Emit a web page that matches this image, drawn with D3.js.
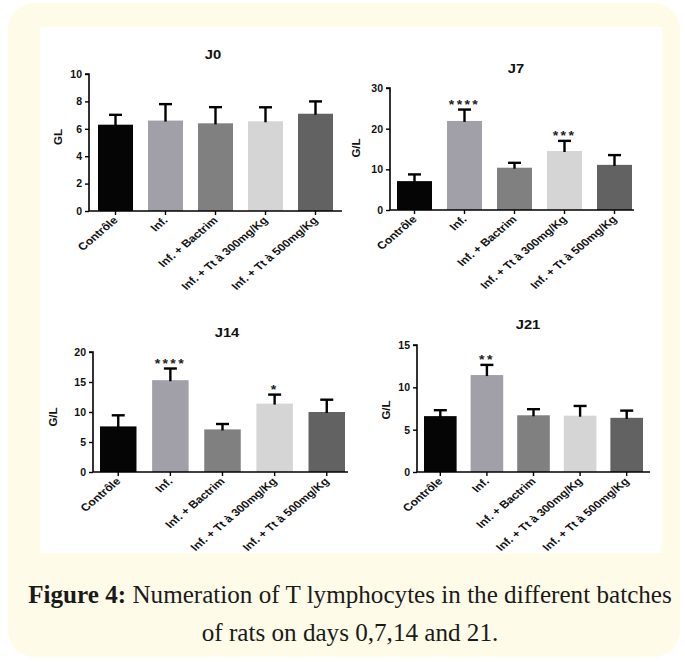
<!DOCTYPE html>
<html>
<head>
<meta charset="utf-8">
<script src="https://cdn.jsdelivr.net/npm/d3@7"></script>
<style>
  html, body { margin: 0; padding: 0; background: #fff; }
  svg { display: block; }
  .tick-label { font-family: "Liberation Sans", Arial, sans-serif; font-weight: bold; fill: #111; }
</style>
</head>
<body>
<script>
// Data
const categories = ["Contrôle", "Inf.", "Inf. + Bactrim", "Inf. + Tt à 300mg/Kg", "Inf. + Tt à 500mg/Kg"];
const days = ["J0", "J7", "J14", "J21"];

const meansJ0 = [6.3, 6.6, 6.4, 6.55, 7.1];
const errJ0 = [0.72, 1.2, 1.18, 1.02, 0.9];
const starsJ0 = ["", "", "", "", ""];
const ticksJ0 = [0, 2, 4, 6, 8, 10];

const meansJ7 = [7.1, 21.9, 10.4, 14.5, 11.1];
const errJ7 = [1.65, 2.8, 1.2, 2.5, 2.4];
const starsJ7 = ["", "****", "", "***", ""];
const ticksJ7 = [0, 10, 20, 30];

const meansJ14 = [7.6, 15.3, 7.1, 11.4, 10.0];
const errJ14 = [1.85, 1.95, 0.9, 1.5, 2.05];
const starsJ14 = ["", "****", "", "*", ""];
const ticksJ14 = [0, 5, 10, 15, 20];

const meansJ21 = [6.6, 11.45, 6.7, 6.65, 6.4];
const errJ21 = [0.7, 1.2, 0.72, 1.15, 0.85];
const starsJ21 = ["", "**", "", "", ""];
const ticksJ21 = [0, 5, 10, 15];

const yLabels = ["GL", "G/L", "G/L", "G/L"];
const barColors = ["#050505", "#a19fa7", "#808080", "#d5d5d5", "#626262"];

const captionBold = "Figure 4:";
const captionRest = " Numeration of T lymphocytes in the different batches";
const captionLine2 = "of rats on days 0,7,14 and 21.";

// Layout of each panel (pixels)
const panels = [
  {means: meansJ0, errs: errJ0, stars: starsJ0, ticks: ticksJ0,
   axis: [89, 342], bars: [98, 333], y0: 211, yTop: 74, tx: 213, ty: 59, lx: 58, ly: 137},
  {means: meansJ7, errs: errJ7, stars: starsJ7, ticks: ticksJ7,
   axis: [390, 634], bars: [397, 632], y0: 210, yTop: 88, tx: 516, ty: 73, lx: 356, ly: 148},
  {means: meansJ14, errs: errJ14, stars: starsJ14, ticks: ticksJ14,
   axis: [93, 348], bars: [100, 345], y0: 472, yTop: 352, tx: 227, ty: 337, lx: 53, ly: 417},
  {means: meansJ21, errs: errJ21, stars: starsJ21, ticks: ticksJ21,
   axis: [417, 650], bars: [424, 643], y0: 472, yTop: 345, tx: 528, ty: 329, lx: 386, ly: 410}
];

// the figure looks stretched sideways, so text gets the same stretch
const stretch = 1.18;

const width = 685, height = 662;
const svg = d3.select("body").append("svg").attr("width", width).attr("height", height);

// Frame
svg.append("rect").attr("x", 8).attr("y", 3).attr("width", 672).attr("height", 654)
   .attr("rx", 26).attr("fill", "#fefbe8");
svg.append("rect").attr("x", 40).attr("y", 27).attr("width", 622).attr("height", 526)
   .attr("fill", "#fff");

panels.forEach((p, k) => {
  const g = svg.append("g");
  const x = d3.scaleBand().domain(categories).range(p.bars).paddingInner(0.3).paddingOuter(0);
  const y = d3.scaleLinear().domain([0, d3.max(p.ticks)]).range([p.y0, p.yTop]);

  // bars
  g.selectAll("rect.bar").data(categories).join("rect")
    .attr("class", "bar")
    .attr("x", c => x(c))
    .attr("width", x.bandwidth())
    .attr("y", (c, i) => y(p.means[i]))
    .attr("height", (c, i) => p.y0 - y(p.means[i]))
    .attr("fill", (c, i) => barColors[i]);

  // error bars (upper only)
  const cap = 13;
  categories.forEach((c, i) => {
    const cx = x(c) + x.bandwidth() / 2;
    const top = y(p.means[i] + p.errs[i]);
    g.append("line").attr("x1", cx).attr("x2", cx).attr("y1", y(p.means[i]) + 1).attr("y2", top)
      .attr("stroke", "#000").attr("stroke-width", 2.4);
    g.append("line").attr("x1", cx - cap / 2).attr("x2", cx + cap / 2).attr("y1", top).attr("y2", top)
      .attr("stroke", "#000").attr("stroke-width", 2.4);
    if (p.stars[i]) {
      g.append("text")
        .attr("transform", `translate(${cx},${top - 1}) scale(${stretch},1)`)
        .attr("text-anchor", "middle")
        .attr("font-family", "Liberation Sans, Arial, sans-serif").attr("font-weight", "bold")
        .attr("font-size", 12).attr("letter-spacing", 2).attr("fill", "#222")
        .text(p.stars[i]);
    }
  });

  // y axis
  const yAxis = g.append("g").attr("transform", `translate(${p.axis[0]},0)`)
    .call(d3.axisLeft(y).tickValues(p.ticks).tickSize(4).tickPadding(3).tickFormat(d3.format("d")));
  yAxis.select(".domain").attr("stroke-width", 1.6).attr("d", `M-4,${p.yTop}H0V${p.y0}`);
  yAxis.selectAll(".tick line").attr("stroke-width", 1.4);
  yAxis.selectAll(".tick text").attr("class", "tick-label").attr("font-size", 10.5);

  // x axis
  const xAxis = g.append("g").attr("transform", `translate(0,${p.y0})`)
    .call(d3.axisBottom(x).tickSize(4).tickFormat(""));
  xAxis.select(".domain").attr("stroke-width", 1.6).attr("d", `M${p.axis[0]},0H${p.axis[1]}`);
  xAxis.selectAll(".tick line").attr("stroke-width", 1.4);

  g.selectAll("text.xlab").data(categories).join("text")
    .attr("class", "xlab tick-label")
    .attr("font-size", 10.4)
    .attr("text-anchor", "end")
    .attr("transform", c => `translate(${x(c) + x.bandwidth() / 2 + 3},${p.y0 + 10}) scale(${stretch},1) rotate(-45)`)
    .text(c => c);

  // titles
  g.append("text").attr("class", "tick-label")
    .attr("transform", `translate(${p.tx},${p.ty}) scale(${stretch},1)`)
    .attr("text-anchor", "middle").attr("font-size", 12.5).text(days[k]);
  g.append("text").attr("class", "tick-label")
    .attr("transform", `translate(${p.lx},${p.ly}) rotate(-90)`)
    .attr("text-anchor", "middle").attr("dominant-baseline", "central")
    .attr("font-size", 11.5).text(yLabels[k]);
});

// Caption
const capFont = "Liberation Serif, 'DejaVu Serif', serif";
const line1 = svg.append("text").attr("x", 350).attr("y", 603).attr("text-anchor", "middle")
  .attr("font-family", capFont).attr("font-size", 22).attr("fill", "#1a1a1a");
line1.append("tspan").attr("font-weight", "bold").text(captionBold);
line1.append("tspan").text(captionRest);
const line2 = svg.append("text").attr("x", 350).attr("y", 641).attr("text-anchor", "middle")
  .attr("font-family", capFont).attr("font-size", 22).attr("fill", "#1a1a1a")
  .text(captionLine2);
// fit line 1 to the reference width
const w1 = line1.node().getComputedTextLength();
const fs = 22 * 644 / w1;
line1.attr("font-size", fs);
line2.attr("font-size", fs);
</script>
</body>
</html>
